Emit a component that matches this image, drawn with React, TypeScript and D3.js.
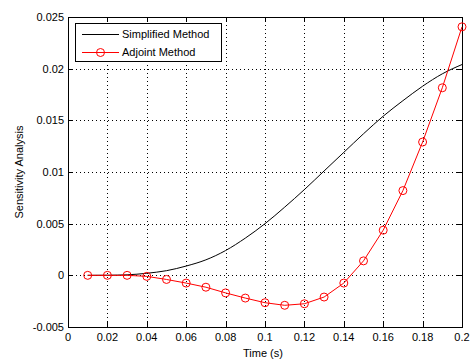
import * as d3 from 'd3';
import { useEffect, useRef } from 'react';

const timeSteps = [0.01, 0.02, 0.03, 0.04, 0.05, 0.06, 0.07, 0.08, 0.09, 0.1, 0.11, 0.12, 0.13, 0.14, 0.15, 0.16, 0.17, 0.18, 0.19, 0.2];
const simplified = [0, 0.00001, 0.00005, 0.0002, 0.00045, 0.0009, 0.0015, 0.0024, 0.0036, 0.005, 0.0066, 0.0083, 0.0101, 0.0119, 0.0137, 0.0154, 0.0169, 0.0183, 0.0195, 0.0204];
const adjoint = [0, 0, 0, -0.0001, -0.0004, -0.00075, -0.00115, -0.0017, -0.0022, -0.00265, -0.0029, -0.00275, -0.0021, -0.00075, 0.0014, 0.00437, 0.0082, 0.0129, 0.01815, 0.02405];
const xTicks = [0, 0.02, 0.04, 0.06, 0.08, 0.1, 0.12, 0.14, 0.16, 0.18, 0.2];
const yTicks = [-0.005, 0, 0.005, 0.01, 0.015, 0.02, 0.025];
const seriesNames = ['Simplified Method', 'Adjoint Method'];

export default function App() {
  const ref = useRef<SVGSVGElement | null>(null);

  useEffect(() => {
    const svg = d3.select(ref.current);
    svg.selectAll('*').remove();
    const width = 473;
    const height = 360;
    const margin = { top: 17, right: 11, bottom: 33, left: 68 };
    const innerW = width - margin.left - margin.right;
    const innerH = height - margin.top - margin.bottom;
    const font = 'Liberation Sans, Arial, sans-serif';

    svg.append('rect').attr('width', width).attr('height', height).attr('fill', '#fff');
    const g = svg.append('g').attr('transform', `translate(${margin.left},${margin.top})`);

    const x = d3.scaleLinear().domain([0, 0.2]).range([0, innerW]);
    const y = d3.scaleLinear().domain([-0.005, 0.025]).range([innerH, 0]);

    // grid
    g.selectAll('line.gx')
      .data(xTicks.slice(1, -1))
      .enter()
      .append('line')
      .attr('x1', (d) => Math.round(x(d)) + 0.5)
      .attr('x2', (d) => Math.round(x(d)) + 0.5)
      .attr('y1', 0)
      .attr('y2', innerH)
      .attr('stroke', '#000')
      .attr('stroke-width', 1)
      .attr('stroke-dasharray', '1,3');
    g.selectAll('line.gy')
      .data(yTicks.slice(1, -1))
      .enter()
      .append('line')
      .attr('y1', (d) => Math.round(y(d)) + 0.5)
      .attr('y2', (d) => Math.round(y(d)) + 0.5)
      .attr('x1', 0)
      .attr('x2', innerW)
      .attr('stroke', '#000')
      .attr('stroke-width', 1)
      .attr('stroke-dasharray', '1,3');

    // ticks inside on all four sides
    const tl = 5;
    xTicks.forEach((t) => {
      const px = Math.round(x(t)) + 0.5;
      g.append('line').attr('x1', px).attr('x2', px).attr('y1', innerH).attr('y2', innerH - tl).attr('stroke', '#000');
      g.append('line').attr('x1', px).attr('x2', px).attr('y1', 0).attr('y2', tl).attr('stroke', '#000');
      g.append('text')
        .attr('x', x(t))
        .attr('y', innerH + 14)
        .attr('text-anchor', 'middle')
        .attr('font-family', font)
        .attr('font-size', 11)
        .attr('fill', '#000')
        .text(String(t));
    });
    yTicks.forEach((t) => {
      const py = Math.round(y(t)) + 0.5;
      g.append('line').attr('x1', 0).attr('x2', tl).attr('y1', py).attr('y2', py).attr('stroke', '#000');
      g.append('line').attr('x1', innerW).attr('x2', innerW - tl).attr('y1', py).attr('y2', py).attr('stroke', '#000');
      g.append('text')
        .attr('x', -4)
        .attr('y', y(t) + 4)
        .attr('text-anchor', 'end')
        .attr('font-family', font)
        .attr('font-size', 11)
        .attr('fill', '#000')
        .text(String(t));
    });

    g.append('rect')
      .attr('x', 0.5)
      .attr('y', 0.5)
      .attr('width', innerW)
      .attr('height', innerH)
      .attr('fill', 'none')
      .attr('stroke', '#000');

    // series
    const simpLine = d3
      .line<number>()
      .x((_, i) => x(timeSteps[i]))
      .y((d) => y(d))
      .curve(d3.curveMonotoneX);
    g.append('path').datum(simplified).attr('d', simpLine).attr('fill', 'none').attr('stroke', '#000').attr('stroke-width', 1);

    const adjLine = d3
      .line<number>()
      .x((_, i) => x(timeSteps[i]))
      .y((d) => y(d));
    g.append('path').datum(adjoint).attr('d', adjLine).attr('fill', 'none').attr('stroke', '#ff0000').attr('stroke-width', 1);
    g.selectAll('circle.adj')
      .data(adjoint)
      .enter()
      .append('circle')
      .attr('cx', (_, i) => x(timeSteps[i]))
      .attr('cy', (d) => y(d))
      .attr('r', 4)
      .attr('fill', 'none')
      .attr('stroke', '#ff0000');

    // legend
    const lg = g.append('g').attr('transform', 'translate(7,6)');
    lg.append('rect').attr('x', 0.5).attr('y', 0.5).attr('width', 146).attr('height', 38).attr('fill', '#fff').attr('stroke', '#000');
    seriesNames.forEach((name, i) => {
      const cy = 11 + i * 18;
      const color = i === 0 ? '#000' : '#ff0000';
      lg.append('line').attr('x1', 7).attr('x2', 44).attr('y1', cy + 0.5).attr('y2', cy + 0.5).attr('stroke', color);
      if (i === 1) lg.append('circle').attr('cx', 25.5).attr('cy', cy + 0.5).attr('r', 4).attr('fill', 'none').attr('stroke', color);
      lg.append('text')
        .attr('x', 47)
        .attr('y', cy + 4)
        .attr('font-family', font)
        .attr('font-size', 11)
        .attr('fill', '#000')
        .text(name);
    });

    // axis labels
    svg.append('text')
      .attr('x', margin.left + x(0.1) - 2)
      .attr('y', 357)
      .attr('text-anchor', 'middle')
      .attr('font-family', font)
      .attr('font-size', 11)
      .attr('fill', '#000')
      .text('Time (s)');
    svg.append('text')
      .attr('transform', `translate(23,${margin.top + innerH / 2}) rotate(-90)`)
      .attr('text-anchor', 'middle')
      .attr('font-family', font)
      .attr('font-size', 11)
      .attr('fill', '#000')
      .text('Sensitivity Analysis');
  }, []);

  return (
    <div style={{ position: 'absolute', left: 0, top: 0 }}>
      <svg ref={ref} width={473} height={360} style={{ display: 'block' }} />
    </div>
  );
}
